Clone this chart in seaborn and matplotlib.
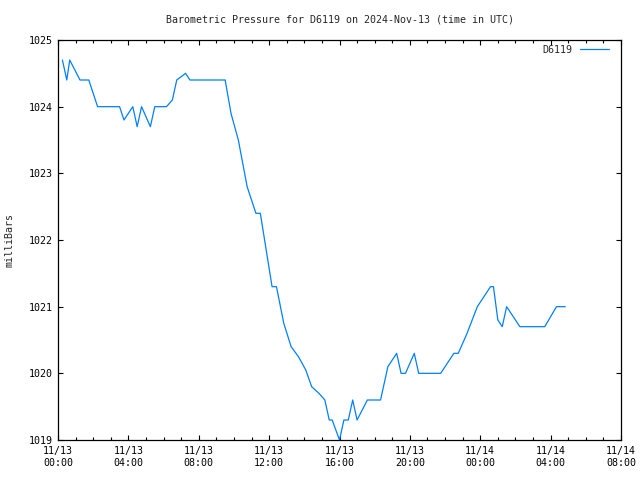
import matplotlib
matplotlib.use("Agg")
import matplotlib.pyplot as plt
import matplotlib.dates as mdates
import seaborn as sns
import pandas as pd

times = [
    "2024-11-13 00:15", "2024-11-13 00:30", "2024-11-13 00:40", "2024-11-13 01:15",
    "2024-11-13 01:45", "2024-11-13 02:15", "2024-11-13 03:30", "2024-11-13 03:45",
    "2024-11-13 04:15", "2024-11-13 04:30", "2024-11-13 04:45", "2024-11-13 05:15",
    "2024-11-13 05:30", "2024-11-13 06:10", "2024-11-13 06:30", "2024-11-13 06:45",
    "2024-11-13 07:15", "2024-11-13 07:30", "2024-11-13 09:30", "2024-11-13 09:50",
    "2024-11-13 10:15", "2024-11-13 10:30", "2024-11-13 10:45", "2024-11-13 11:15",
    "2024-11-13 11:30", "2024-11-13 12:10", "2024-11-13 12:25", "2024-11-13 12:50",
    "2024-11-13 13:15", "2024-11-13 13:40", "2024-11-13 14:05", "2024-11-13 14:25",
    "2024-11-13 14:50", "2024-11-13 15:10", "2024-11-13 15:25", "2024-11-13 15:35",
    "2024-11-13 16:00", "2024-11-13 16:15", "2024-11-13 16:30", "2024-11-13 16:45",
    "2024-11-13 17:00", "2024-11-13 17:35", "2024-11-13 18:20", "2024-11-13 18:45",
    "2024-11-13 19:15", "2024-11-13 19:30", "2024-11-13 19:45", "2024-11-13 20:15",
    "2024-11-13 20:30", "2024-11-13 21:45", "2024-11-13 22:30", "2024-11-13 22:45",
    "2024-11-13 23:15", "2024-11-13 23:50", "2024-11-14 00:35", "2024-11-14 00:45",
    "2024-11-14 01:00", "2024-11-14 01:15", "2024-11-14 01:30", "2024-11-14 02:15",
    "2024-11-14 03:40", "2024-11-14 04:20", "2024-11-14 04:50",
]
pressure = [
    1024.7, 1024.4, 1024.7, 1024.4,
    1024.4, 1024.0, 1024.0, 1023.8,
    1024.0, 1023.7, 1024.0, 1023.7,
    1024.0, 1024.0, 1024.1, 1024.4,
    1024.5, 1024.4, 1024.4, 1023.9,
    1023.5, 1023.15, 1022.8, 1022.4,
    1022.4, 1021.3, 1021.3, 1020.75,
    1020.4, 1020.25, 1020.05, 1019.8,
    1019.7, 1019.6, 1019.3, 1019.3,
    1019.0, 1019.3, 1019.3, 1019.6,
    1019.3, 1019.6, 1019.6, 1020.1,
    1020.3, 1020.0, 1020.0, 1020.3,
    1020.0, 1020.0, 1020.3, 1020.3,
    1020.6, 1021.0, 1021.3, 1021.3,
    1020.8, 1020.7, 1021.0, 1020.7,
    1020.7, 1021.0, 1021.0,
]
station = "D6119"
y_ticks = [1019, 1020, 1021, 1022, 1023, 1024, 1025]

df = pd.DataFrame({"time": pd.to_datetime(times), "pressure": pressure,
                   "station": [station] * len(times)})

sns.set_style("ticks")
plt.rcParams['font.family'] = ['DejaVu Sans Mono']
plt.rcParams['font.size'] = 7

fig = plt.figure(figsize=(6.4, 4.8), dpi=100)
ax = fig.add_axes([58 / 640, 40 / 480, 563 / 640, 400 / 480])
sns.lineplot(data=df, x="time", y="pressure", hue="station",
             palette=["#0080ff"], linewidth=0.9, ax=ax)

ax.set_xlim(pd.Timestamp("2024-11-13 00:00"), pd.Timestamp("2024-11-14 08:00"))
ax.set_ylim(1019, 1025)
ax.set_yticks(y_ticks)
ax.xaxis.set_major_locator(mdates.HourLocator(byhour=[0, 4, 8, 12, 16, 20]))
ax.xaxis.set_minor_locator(mdates.HourLocator(interval=1))
ax.xaxis.set_major_formatter(mdates.DateFormatter("%m/%d\n%H:%M"))
ax.tick_params(which="both", direction="in", top=True, right=True,
               colors="black", labelsize=7.2, width=0.8)
ax.tick_params(which="major", length=3.8, pad=4)
ax.tick_params(which="minor", length=2.2)
for t in ax.get_xticklabels():
    t.set_linespacing(1.3)
for s in ax.spines.values():
    s.set_linewidth(0.9)
    s.set_color("black")
ax.set_xlabel("")
ax.set_ylabel("")

fig.text(339.5 / 640, 1 - 20 / 480, "Barometric Pressure for D6119 on 2024-Nov-13 (time in UTC)",
         ha="center", va="center", fontsize=7.2)
fig.text(10 / 640, 1 - 240 / 480, "milliBars", rotation=90, ha="center", va="center",
         fontsize=7.2)

leg = ax.legend(loc="upper right", frameon=False, markerfirst=False,
                handlelength=2.9, fontsize=7.2, bbox_to_anchor=(0.991, 1.006),
                borderaxespad=0.3)

fig.savefig("out.png", dpi=100)
